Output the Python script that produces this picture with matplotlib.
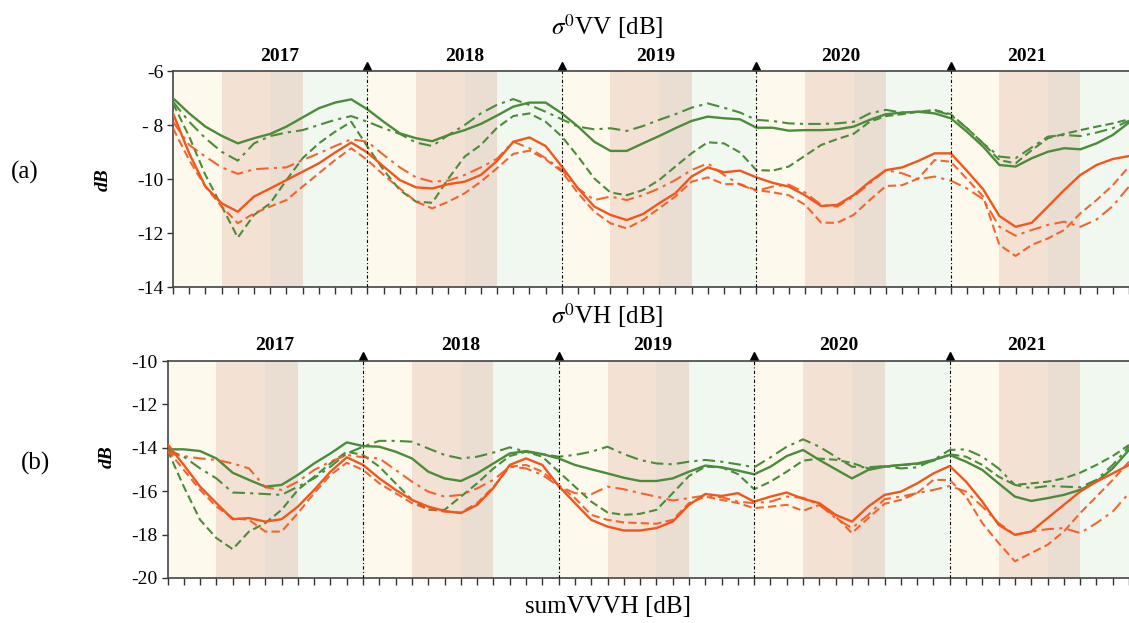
import numpy as np
import matplotlib
matplotlib.use('Agg')
import matplotlib.pyplot as plt
from matplotlib.transforms import blended_transform_factory

plt.rcParams['font.family'] = ['Liberation Serif', 'DejaVu Serif']
plt.rcParams['mathtext.fontset'] = 'stix'

# monthly index, Jan 2017 .. Dec 2021
months = np.arange(60)
years = ['2017', '2018', '2019', '2020', '2021']
year_label_pos = [6.6, 18.0, 29.8, 41.2, 52.7]
year_bounds = [12, 24, 36, 48]

# (a) sigma0 VV
a_green_solid = [-7.01, -7.57, -8.06, -8.4, -8.68, -8.49, -8.33, -8.06, -7.72, -7.38, -7.17, -7.05, -7.42, -7.88, -8.31, -8.49, -8.6, -8.37, -8.19, -7.96, -7.65,
                 -7.32, -7.17, -7.17, -7.57, -8.06, -8.62, -8.96, -8.96, -8.68, -8.41, -8.12, -7.85, -7.69, -7.75, -7.79, -8.1, -8.1, -8.21, -8.19,
                 -8.19, -8.16, -8.06, -7.81, -7.6, -7.54, -7.51, -7.57, -7.75, -8.25, -8.8, -9.48, -9.54, -9.23, -8.99, -8.86, -8.9, -8.68, -8.37, -7.91]
a_green_dashdot = [-7.14, -7.88, -8.49, -8.99, -9.32, -8.68, -8.41, -8.28, -8.19, -8.0, -7.81, -7.67, -7.88, -8.12, -8.33, -8.65, -8.78, -8.37, -8.0, -7.57, -7.25,
                   -7.04, -7.26, -7.51, -7.79, -8.06, -8.16, -8.12, -8.22, -8.04, -7.81, -7.6, -7.36, -7.2, -7.36, -7.54, -7.81, -7.85, -7.94, -7.96,
                   -7.96, -7.94, -7.88, -7.57, -7.44, -7.54, -7.51, -7.47, -7.63, -8.12, -8.68, -9.17, -9.23, -8.83, -8.43, -8.37, -8.41, -8.28, -8.12, -7.84]
a_green_dashed = [-7.2, -8.43, -9.85, -11.0, -12.17, -11.33, -10.9, -10.04, -9.23, -8.68, -8.25, -7.88, -8.8, -9.67, -10.41, -10.84, -10.88, -9.98, -9.17, -8.74, -8.1,
                  -7.67, -7.57, -7.88, -8.43, -9.17, -9.98, -10.5, -10.6, -10.41, -10.04, -9.54, -9.05, -8.64, -8.68, -9.02, -9.67, -9.69, -9.54, -9.14,
                  -8.74, -8.52, -8.33, -7.88, -7.67, -7.6, -7.51, -7.44, -7.6, -8.12, -8.68, -9.3, -9.42, -8.93, -8.49, -8.33, -8.19, -8.06, -7.94, -7.79]
a_orange_solid = [-7.57, -9.05, -10.28, -10.9, -11.21, -10.65, -10.35, -10.04, -9.73, -9.42, -9.02, -8.65, -9.02, -9.54, -10.04, -10.31, -10.35, -10.19, -10.1, -9.85, -9.33,
                  -8.62, -8.46, -8.78, -9.54, -10.35, -11.02, -11.33, -11.52, -11.3, -10.9, -10.53, -9.91, -9.57, -9.75, -9.69, -9.94, -10.14, -10.28, -10.6,
                  -11.0, -10.96, -10.6, -10.1, -9.67, -9.57, -9.33, -9.05, -9.05, -9.7, -10.38, -11.37, -11.77, -11.62, -11.02, -10.41, -9.85, -9.48, -9.26, -9.15]
a_orange_dashdot = [-7.88, -8.74, -9.17, -9.57, -9.81, -9.64, -9.6, -9.57, -9.3, -9.05, -8.78, -8.53, -8.62, -9.11, -9.57, -9.94, -10.1, -10.06, -9.85, -9.57, -9.25,
                    -8.62, -8.86, -9.23, -9.67, -10.35, -10.78, -10.65, -10.78, -10.6, -10.35, -10.04, -9.67, -9.42, -9.85, -10.21, -10.44, -10.28, -10.21, -10.5,
                    -10.96, -11.02, -10.65, -10.16, -9.67, -9.79, -10.01, -9.91, -10.06, -10.35, -10.75, -11.77, -12.1, -11.89, -11.7, -11.58, -11.77, -11.5, -11.0, -10.28]
a_orange_dashed = [-8.12, -9.3, -10.28, -11.02, -11.64, -11.27, -11.02, -10.78, -10.28, -9.79, -9.3, -8.86, -9.3, -9.85, -10.35, -10.84, -11.09, -10.84, -10.53, -10.1, -9.6,
                   -9.07, -8.95, -9.27, -9.73, -10.53, -11.21, -11.64, -11.83, -11.52, -11.09, -10.65, -10.1, -9.94, -10.19, -10.19, -10.41, -10.49, -10.6, -10.95,
                   -11.62, -11.62, -11.33, -10.78, -10.26, -10.23, -9.98, -9.3, -9.36, -10.0, -10.65, -12.44, -12.85, -12.44, -12.2, -11.89, -11.27, -10.78, -10.23, -9.54]

# (b) sigma0 VH
b_green_solid = [-14.07, -14.07, -14.15, -14.49, -15.15, -15.48, -15.79, -15.71, -15.25, -14.72, -14.26, -13.75, -13.92, -13.95, -14.18, -14.49, -15.1, -15.41, -15.53, -15.18, -14.72,
                 -14.26, -14.15, -14.29, -14.49, -14.79, -14.99, -15.18, -15.38, -15.53, -15.53, -15.41, -15.1, -14.82, -14.9, -15.05, -15.22, -14.87, -14.38, -14.1,
                 -14.56, -14.99, -15.41, -15.02, -14.87, -14.79, -14.72, -14.56, -14.33, -14.64, -15.02, -15.64, -16.25, -16.45, -16.32, -16.17, -15.94, -15.56, -14.95, -14.1]
b_green_dashdot = [-14.1, -14.41, -14.95, -15.41, -16.06, -16.09, -16.13, -16.17, -15.79, -15.41, -14.87, -14.26, -13.95, -13.68, -13.68, -13.72, -14.03, -14.33, -14.49, -14.41, -14.22,
                   -13.98, -14.18, -14.29, -14.41, -14.33, -14.18, -13.95, -14.29, -14.56, -14.72, -14.76, -14.64, -14.56, -14.64, -14.76, -14.9, -14.44, -13.95, -13.61,
                   -13.95, -14.41, -14.87, -14.9, -14.84, -14.95, -14.9, -14.56, -14.1, -14.07, -14.41, -14.95, -15.71, -15.86, -15.76, -15.79, -15.82, -15.48, -14.79, -13.95]
b_green_dashed = [-14.1, -15.79, -17.32, -18.16, -18.67, -17.86, -17.47, -16.86, -15.94, -15.33, -14.72, -14.18, -14.33, -14.87, -15.64, -16.4, -16.86, -16.86, -16.25, -15.64, -14.95,
                  -14.38, -14.18, -14.41, -15.1, -15.79, -16.48, -16.98, -17.09, -17.04, -16.86, -16.09, -15.3, -14.87, -14.9, -15.21, -15.91, -15.56, -15.1, -14.59,
                  -14.5, -14.55, -14.7, -14.95, -14.85, -14.8, -14.75, -14.6, -14.3, -14.41, -14.79, -15.33, -15.71, -15.64, -15.56, -15.41, -15.15, -14.79, -14.38, -13.87]
b_orange_solid = [-13.83, -14.79, -15.79, -16.55, -17.29, -17.24, -17.4, -17.29, -16.71, -15.94, -15.1, -14.44, -14.79, -15.41, -15.94, -16.4, -16.71, -16.91, -17.01, -16.63, -15.85,
                  -14.79, -14.49, -14.79, -15.76, -16.55, -17.32, -17.63, -17.81, -17.81, -17.7, -17.4, -16.63, -16.13, -16.22, -16.09, -16.48, -16.25, -16.06, -16.35,
                  -16.55, -17.09, -17.4, -16.71, -16.17, -16.02, -15.64, -15.18, -14.84, -15.56, -16.48, -17.55, -18.01, -17.86, -17.24, -16.63, -16.02, -15.56, -15.18, -14.79]
b_orange_dashdot = [-14.26, -14.38, -14.49, -14.56, -14.72, -14.95, -15.82, -15.94, -15.56, -15.02, -14.64, -14.33, -14.44, -14.49, -15.02, -15.56, -16.02, -16.25, -16.17, -15.87, -15.48,
                    -14.87, -14.95, -15.25, -15.76, -16.09, -16.14, -15.79, -15.91, -16.09, -16.25, -16.43, -16.32, -16.2, -16.28, -16.48, -16.55, -16.48, -16.25, -16.3,
                    -16.63, -17.24, -17.7, -17.09, -16.37, -16.25, -16.09, -15.94, -15.76, -16.02, -16.71, -17.47, -18.01, -17.86, -17.75, -17.7, -17.93, -17.47, -16.94, -16.09]
b_orange_dashed = [-14.1, -15.02, -15.94, -16.71, -17.24, -17.32, -17.86, -17.86, -17.01, -16.09, -15.25, -14.69, -15.02, -15.64, -16.09, -16.55, -16.82, -16.94, -16.98, -16.55, -15.8,
                   -14.87, -14.79, -15.1, -15.71, -16.32, -17.09, -17.32, -17.44, -17.47, -17.5, -17.32, -16.55, -16.25, -16.4, -16.55, -16.78, -16.71, -16.63, -16.9,
                   -16.63, -17.17, -17.93, -17.24, -16.58, -16.4, -16.09, -15.48, -15.48, -16.25, -17.47, -18.39, -19.23, -18.85, -18.47, -17.86, -17.01, -16.25, -15.48, -14.64]

# seasonal background bands within each year (month offsets)
season_edges = [0, 3, 6, 8, 12]
season_colors = ['#FDF9EC', '#F3E2D3', '#EADDD1', '#F0F8EF']

green = '#4B8B39'
orange = '#F2561D'
dashed = (0, (4, 2))
dashdot = (0, (6, 2.5, 1.5, 2.5))

fig = plt.figure(figsize=(11.29, 6.23), dpi=100)
ax_a = fig.add_axes([173 / 1129, 1 - 287 / 623, 956 / 1129, 216 / 623])
ax_b = fig.add_axes([167.5 / 1129, 1 - 578 / 623, 961.5 / 1129, 217 / 623])


def draw_panel(ax, series, ylim, yticks, yticklabels, xmax, label_y):
    for y0 in range(5):
        for i in range(4):
            ax.axvspan(12 * y0 + season_edges[i], 12 * y0 + season_edges[i + 1],
                       color=season_colors[i], lw=0, zorder=0)
    gs, gdd, gd, os_, odd, od = series
    ax.plot(months, gs, color=green, lw=1.7, zorder=3)
    ax.plot(months, gdd, color=green, lw=1.5, ls=dashdot, zorder=3)
    ax.plot(months, gd, color=green, lw=1.5, ls=dashed, zorder=3)
    ax.plot(months, os_, color=orange, lw=1.7, zorder=3)
    ax.plot(months, odd, color=orange, lw=1.5, ls=dashdot, alpha=0.9, zorder=3)
    ax.plot(months, od, color=orange, lw=1.5, ls=dashed, alpha=0.9, zorder=3)

    trans = blended_transform_factory(ax.transData, ax.transAxes)
    for b in year_bounds:
        ax.axvline(b, color='black', lw=0.8, ls=(0, (3, 2, 1, 2)), zorder=4)
        ax.plot([b], [1.025], marker='^', color='black', ms=6, transform=trans, clip_on=False)
    for lab, xp in zip(years, year_label_pos):
        ax.text(xp, label_y, lab, transform=trans, ha='center', va='center',
                fontsize=14, fontweight='bold')

    ax.set_xlim(0, xmax)
    ax.set_ylim(*ylim)
    ax.set_xticks(months)
    ax.set_xticklabels([])
    ax.set_yticks(yticks)
    ax.set_yticklabels(yticklabels, fontsize=14)
    ax.tick_params(axis='x', direction='out', length=5, width=1, color='#333333')
    ax.tick_params(axis='y', direction='out', length=4, width=1, color='#333333', pad=3)
    ax.spines['right'].set_visible(False)
    for s in ['top', 'bottom', 'left']:
        ax.spines[s].set_color('#444444')
        ax.spines[s].set_linewidth(1.2)


draw_panel(ax_a, [a_green_solid, a_green_dashdot, a_green_dashed,
                  a_orange_solid, a_orange_dashdot, a_orange_dashed],
           (-14, -6), [-14, -12, -10, -8, -6], ['-14', '-12', '-10', '- 8', '-6'], 59, 1.065)
draw_panel(ax_b, [b_green_solid, b_green_dashdot, b_green_dashed,
                  b_orange_solid, b_orange_dashdot, b_orange_dashed],
           (-20, -10), [-20, -18, -16, -14, -12, -10],
           ['-20', '-18', '-16', '-14', '-12', '-10'], 58.8, 1.072)

fig.text(607 / 1129, 1 - 27 / 623, r'$\sigma^0$VV [dB]', ha='center', va='center', fontsize=18)
fig.text(607 / 1129, 1 - 316 / 623, r'$\sigma^0$VH [dB]', ha='center', va='center', fontsize=18)
fig.text(608 / 1129, 1 - 607 / 623, 'sumVVVH [dB]', ha='center', va='center', fontsize=18)
fig.text(25 / 1129, 1 - 172 / 623, '(a)', ha='center', va='center', fontsize=18)
fig.text(35 / 1129, 1 - 463 / 623, '(b)', ha='center', va='center', fontsize=18)
fig.text(103 / 1129, 1 - 180 / 623, 'dB', ha='center', va='center', rotation=90,
         fontsize=14, fontweight='bold', style='italic')
fig.text(107 / 1129, 1 - 457 / 623, 'dB', ha='center', va='center', rotation=90,
         fontsize=14, fontweight='bold', style='italic')

fig.savefig('out.png', dpi=100)
